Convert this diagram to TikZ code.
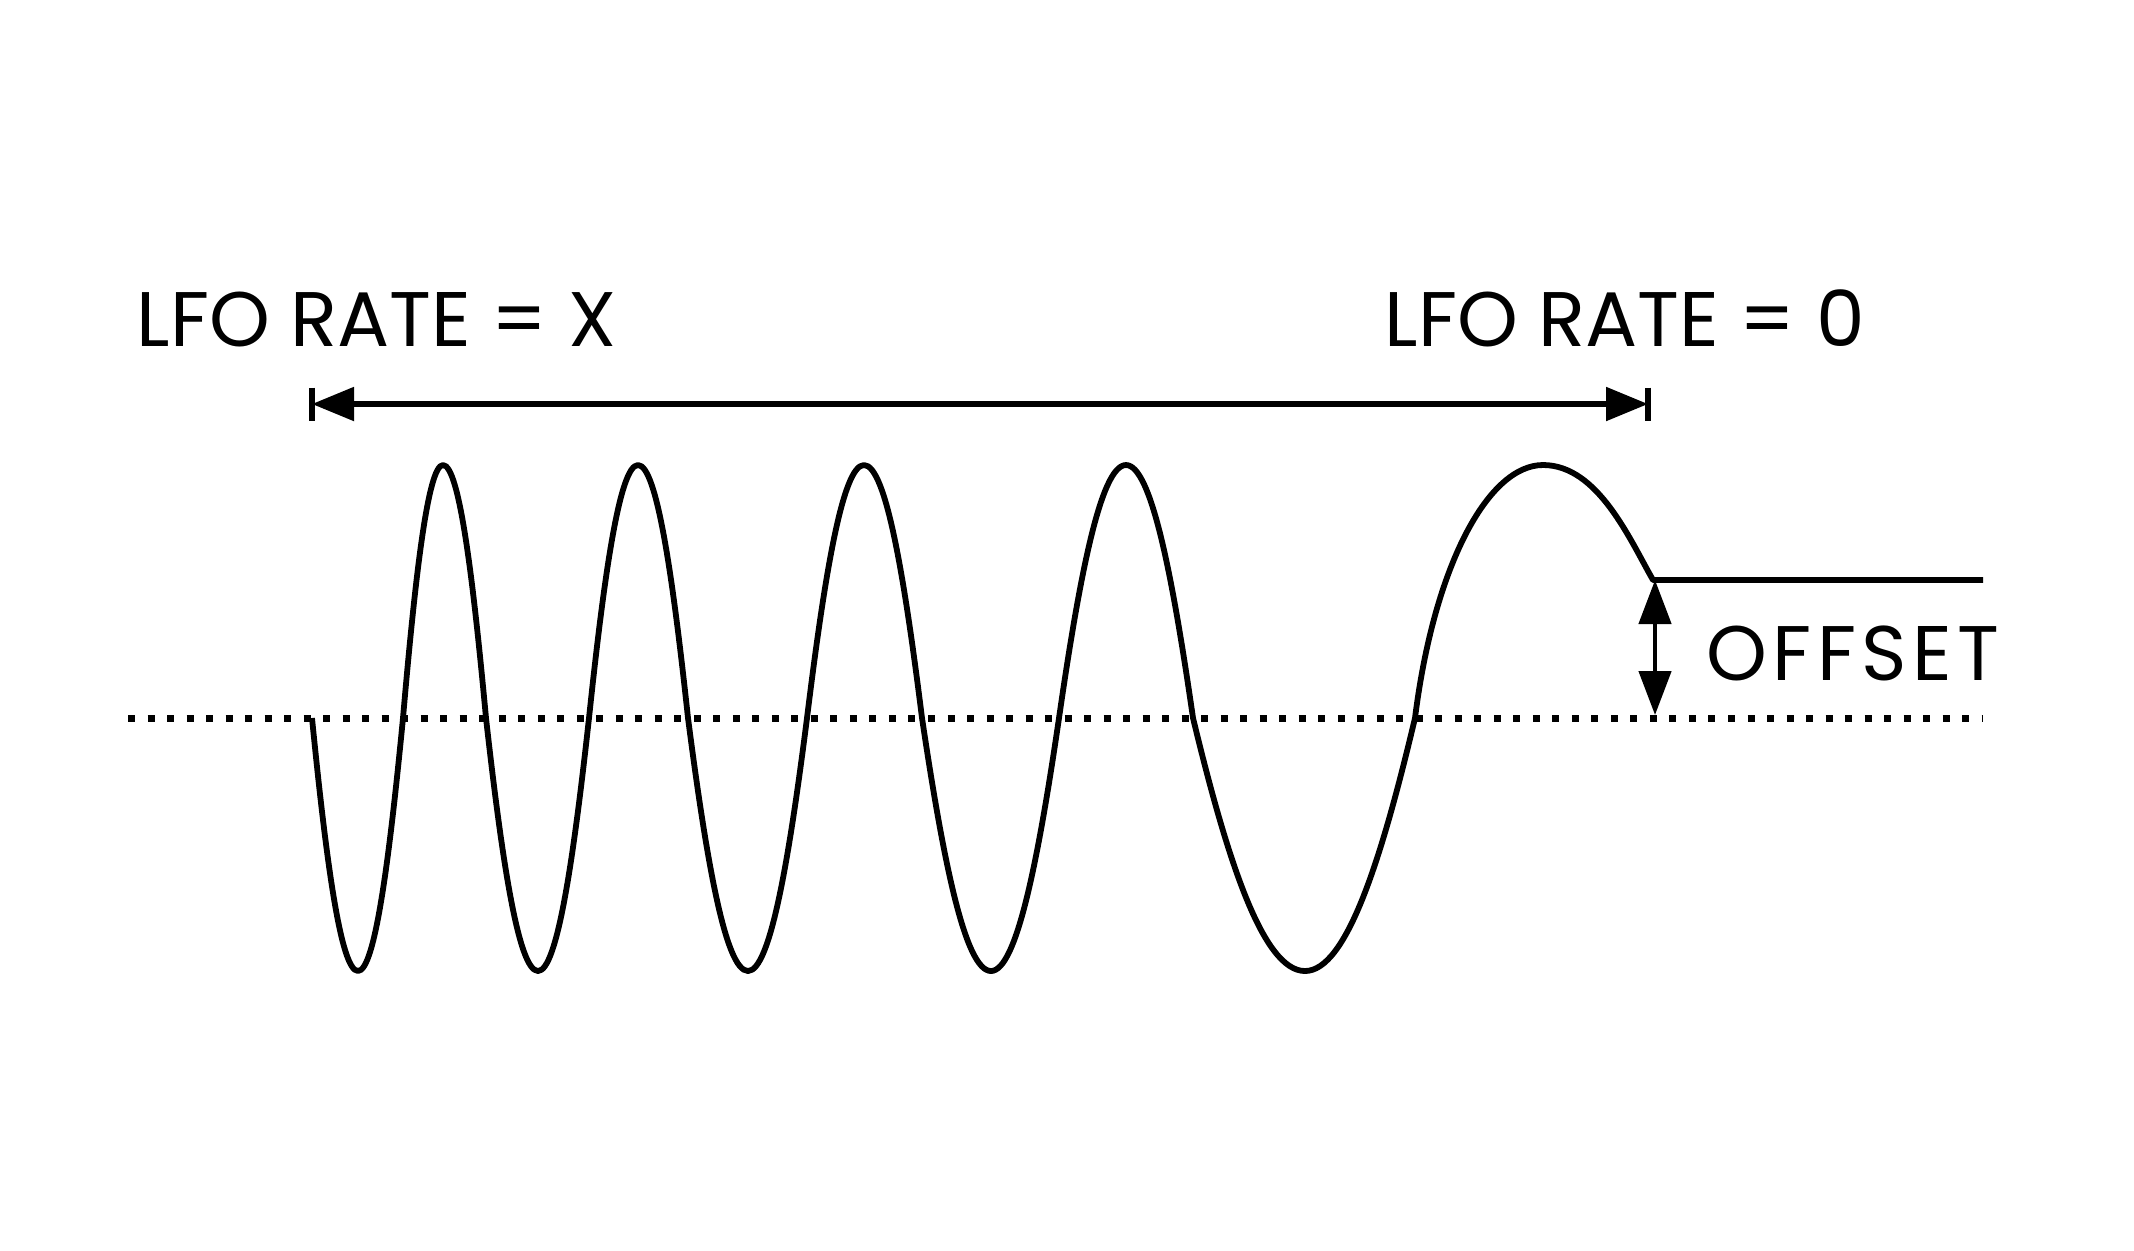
\documentclass[tikz,border=0pt]{standalone}
\usepackage{fontspec}
\setmainfont{Poppins}
\usetikzlibrary{arrows.meta}
\tikzset{
  ona/.style={draw=black, line width=1.65pt, line join=round},
  eix/.style={draw=black, line width=2pt, dash pattern=on .07cm off .125cm},
  cota/.style={draw=black, line width=1.5pt},
  fita/.style={draw=black, line width=1.6pt},
  punta/.style={cota, {Triangle[length=.42cm, width=.33cm]}-{Triangle[length=.42cm, width=.33cm]}},
  etiqueta/.style={font=\fontsize{22}{26}\selectfont, inner sep=0pt, anchor=base west},
}

\begin{document}
\begin{tikzpicture}[x=.01cm, y=-.01cm]
  \useasboundingbox (0,0) rectangle (2134,1250);

  % linia de zero
  \draw[eix] (128,718) -- (1983,718);

  % ona
  \coordinate (inici) at (312,718);
  \coordinate (cim) at (1543,465);
  \coordinate (nivell) at (1653,580);
  \coordinate (final) at (1983,580);
  \draw[ona] (inici)
    \foreach \xa/\xm/\xb/\sg in {312/358/403/1, 403/443/486/-1, 486/538/589/1,
      589/638/688/-1, 688/748/807/1, 807/864/922/-1, 922/991/1059/1,
      1059/1126/1193/-1, 1193/1305/1415/1}{
      .. controls ({\xa+.30*(\xm-\xa)},{718+\sg*139}) and ({\xm-.38*(\xm-\xa)},{718+\sg*253})
      .. (\xm,{718+\sg*253})
      .. controls ({\xm+.38*(\xb-\xm)},{718+\sg*253}) and ({\xb-.30*(\xb-\xm)},{718+\sg*139})
      .. (\xb,718)
    }
    .. controls (1434,566) and (1488,465) .. (cim)
    .. controls (1598,465) and (1630,540) .. (nivell) -- (final);

  % cota del ritme
  \coordinate (esq) at (312,404);
  \coordinate (dre) at (1648,404);
  \draw[punta] (esq) -- (dre);
  \draw[fita] ([yshift=.165cm]esq) -- ([yshift=-.165cm]esq);
  \draw[fita] ([yshift=.165cm]dre) -- ([yshift=-.165cm]dre);

  % cota del desplacament
  \coordinate (dalt) at (1655,580);
  \coordinate (baix) at (1655,715);
  \draw[punta, line width=1.3pt, {Triangle[length=.44cm, width=.32cm]}-{Triangle[length=.44cm, width=.32cm]}] (dalt) -- (baix);

  \node[etiqueta] (ritmex) at (136,346) {LFO RATE = X};
  \node[etiqueta] (ritme0) at (1384,346) {LFO RATE = 0};
  \node[etiqueta] (desplac) at (1706,680) {\addfontfeatures{LetterSpace=7}OFFSET};
\end{tikzpicture}
\end{document}
